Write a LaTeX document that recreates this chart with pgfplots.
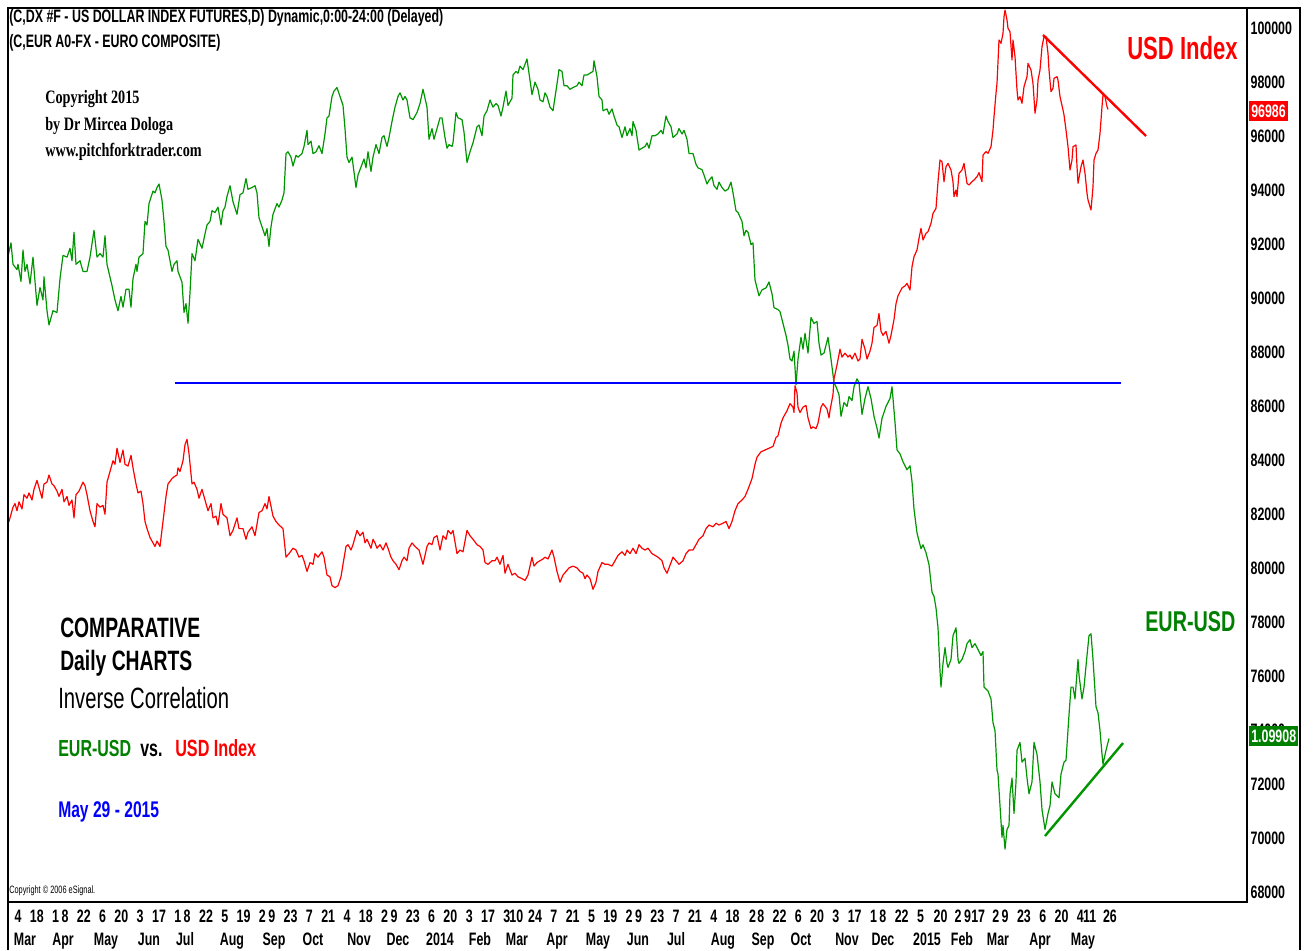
\documentclass[border=0pt]{standalone}
\usepackage{pgfplots}
\pgfplotsset{compat=1.18}
\usepackage{fontspec}
\setmainfont{Liberation Sans}
\newfontfamily\es[FakeStretch=0.69]{Liberation Sans}
\newfontfamily\ser[FakeStretch=0.75]{Liberation Serif}
\definecolor{lgreen}{RGB}{0,150,0}
\definecolor{tgreen}{RGB}{0,128,0}
\definecolor{lred}{RGB}{255,0,0}
\definecolor{lblue}{RGB}{0,0,255}

\pgfplotstableread{
x y
7 91380
11 92042
13 91248
17 91050
18 91248
21 90613
23 91777
25 90984
27 91248
30 90521
33 91513
37 89727
40 90388
43 89925
44 90785
47 89529
49 88999
53 89529
57 89462
60 90719
63 91579
67 91513
70 91843
72 91380
74 92439
76 91248
80 91380
83 90984
87 90984
90 91513
94 92505
97 91513
100 91645
103 91513
105 92306
107 91248
112 90455
115 89925
118 89529
121 90058
123 89661
126 90322
129 90322
131 89661
133 90719
136 91248
137 90984
139 91513
143 91645
145 92836
147 92703
149 93497
153 93960
155 93894
157 94092
159 94224
162 93629
164 92836
166 91910
168 91777
170 91380
172 90984
174 91248
177 91380
178 90984
182 90587
184 89462
186 89793
188 89066
190 90190
192 91645
195 91380
198 92174
202 91843
205 92373
207 92703
210 92836
212 93232
215 93166
218 93365
221 92703
223 93232
225 93365
227 93762
230 94158
233 93563
237 93100
240 93828
243 93894
246 94423
248 94026
252 94092
255 94158
257 93894
259 92968
262 92637
265 92306
267 92571
269 91910
271 92637
273 93100
277 93497
279 93365
282 93629
284 93894
286 95349
288 95415
291 95217
293 94886
296 95283
298 95217
302 95349
304 95613
307 96209
308 95680
311 95812
313 95349
316 95415
319 95640
322 95349
325 96076
327 96672
329 96738
332 97465
334 97664
337 97796
340 97465
343 97135
345 96275
347 95217
349 95018
352 95217
353 94952
356 94092
358 94555
362 94952
364 95150
366 94820
368 95415
371 94687
373 95217
376 95680
379 95349
382 95944
384 96010
387 95613
389 95944
392 96539
395 97069
398 97465
400 97598
403 97333
405 97465
407 97333
410 96672
413 96606
417 96870
420 97201
423 97730
427 97069
429 95878
432 96275
434 95878
437 96275
440 96672
442 96672
445 95944
447 95547
449 95680
452 95613
453 95746
456 96870
458 96672
462 96606
464 96143
467 95018
470 95415
473 95746
477 96341
479 96407
482 96010
484 96738
487 96936
490 97333
493 97069
496 97201
498 97135
501 96738
503 97069
506 97664
508 97135
512 97399
513 98259
516 98391
518 98325
520 98590
523 98457
525 98656
527 98854
530 98061
532 97531
535 97994
538 97730
540 97333
543 97267
545 97598
547 97465
550 97069
553 96936
557 97928
559 98457
562 98391
564 97862
567 97862
570 97730
573 97796
577 97862
579 97994
582 97862
584 98259
587 98259
590 98325
593 98391
594 98788
597 98193
599 97465
602 97333
603 96936
607 97002
609 96804
612 97002
614 96738
617 96407
619 96341
622 95944
625 96341
627 96010
630 96275
632 96010
633 96539
636 96209
639 95481
642 95547
645 95613
647 95746
649 95547
652 96010
655 96010
658 96076
661 96209
663 96076
666 96738
668 96539
671 96341
673 95944
677 96076
679 96275
682 96076
684 96209
687 95878
689 95349
693 95349
696 94952
698 94820
702 94754
704 94555
707 94224
709 94357
712 94489
714 94158
717 94026
719 94291
722 94092
725 93960
728 94026
731 94291
733 93894
736 93232
738 93166
742 92836
744 92306
746 92505
748 92439
751 91976
753 92042
755 90667
759 90081
762 90301
766 90374
769 90594
772 90155
774 89642
778 89569
780 89496
783 89057
786 88618
788 88251
790 87739
792 87666
794 88032
796 86788
798 87739
801 88544
803 88105
805 88691
808 87959
811 89276
814 89057
817 89130
819 88325
821 87886
824 87959
828 88544
831 87739
834 86861
836 86714
839 86422
841 85617
844 86129
847 85983
849 86349
852 86202
854 86715
857 87007
859 86861
862 85690
865 86276
868 86715
871 86276
874 85617
877 85177
879 84811
882 85543
886 85983
888 86129
890 86276
892 86715
895 85397
897 84372
900 84226
903 83933
907 83640
910 83787
912 83201
914 82177
917 81298
921 80713
923 80859
926 80566
929 80127
932 79102
934 78956
936 78517
938 77785
940 76174
941 75589
943 76467
945 77053
947 76467
948 76321
951 76614
953 77492
956 77785
958 76614
959 76467
962 76614
965 76906
967 77199
970 77346
972 77053
975 77199
979 76906
981 76760
983 76906
984 75589
988 75442
991 75150
993 74271
995 73979
997 72515
998 72369
1000 71198
1002 70026
1003 70465
1005 69588
1007 70319
1009 70465
1010 71636
1012 72222
1014 70904
1016 72076
1017 73247
1020 73540
1022 72808
1025 72954
1027 72222
1029 71636
1032 72076
1034 73540
1037 73100
1040 72076
1042 71051
1045 70319
1048 70904
1050 71198
1052 72076
1055 71636
1059 71490
1061 72369
1064 72808
1066 72881
1069 74563
1071 75589
1073 75589
1075 75150
1078 76614
1079 76028
1082 75150
1084 75589
1087 76760
1089 77492
1091 77565
1093 76614
1096 74857
1098 74638
1100 73979
1102 73100
1103 72735
1106 73247
1109 73686
}\eurtable

\pgfplotstableread{
x y
7 81856
9 81724
13 82253
15 82385
17 82121
19 82451
22 82187
24 82716
27 82584
29 82782
32 82518
34 82914
37 83245
39 82980
42 82584
44 83113
47 83179
49 83444
52 83113
54 83047
57 82848
59 82650
62 82914
64 82451
67 82650
69 82319
72 82518
74 81856
76 82716
79 82848
83 83179
85 83047
87 82716
90 82121
93 81724
95 81526
97 82385
100 82253
103 82319
105 81988
107 83179
110 83576
113 83973
115 83841
117 84436
120 83907
123 84370
125 83841
128 83775
131 84172
133 83709
136 83113
138 82782
141 82848
143 82385
145 81724
147 81459
150 81129
153 80930
155 80798
157 80997
160 80798
163 81724
166 82650
168 83113
172 83311
174 83377
177 83444
178 83709
180 83576
183 83973
185 84568
187 84766
189 84238
192 83113
194 83179
197 82914
199 82584
202 82914
205 82518
208 82121
211 82385
213 81856
216 81922
218 81592
221 82385
223 81988
227 81856
230 81195
233 81393
237 81856
239 81459
243 81459
246 81063
248 81327
252 81526
255 81195
259 82054
262 82121
265 82385
267 82187
269 82650
273 81922
276 81724
279 81592
283 81459
286 80401
289 80533
293 80732
296 80666
299 80401
302 80467
304 80269
307 79872
310 80203
313 80137
315 80533
318 80401
322 80600
324 80401
327 79740
330 79674
332 79343
335 79277
338 79343
341 79674
343 80137
346 80798
348 80864
351 80666
353 80864
355 81129
357 81393
360 81195
363 81327
365 80930
367 81063
371 80732
373 81063
375 80930
377 80732
380 80864
383 80666
386 80930
388 80732
391 80401
393 80269
396 80137
399 79938
402 80269
404 80401
407 80269
409 80732
412 80930
415 80798
419 80666
423 80137
427 80798
429 80930
432 80864
434 81129
437 81195
440 80666
443 81195
446 81063
448 81393
451 81261
453 81393
457 80533
460 80666
463 80600
467 81393
470 81195
473 81063
477 80864
480 80798
483 80666
485 80203
488 80137
492 80269
495 80269
497 80401
500 80137
503 80467
505 79806
508 80137
512 79740
515 79806
518 79674
522 79607
525 79541
528 79740
532 80401
534 80071
537 80203
540 80269
543 80335
545 80401
548 80335
552 80666
554 80401
557 79872
560 79475
563 79740
566 79872
569 80004
573 80071
577 80004
580 79872
583 79806
585 79607
587 79740
590 79607
593 79211
596 79475
598 79872
602 80203
605 80137
608 80137
612 80071
615 80269
618 80467
622 80600
625 80467
627 80666
630 80533
633 80732
636 80533
639 80864
642 80732
645 80666
648 80732
652 80533
655 80467
658 80401
662 80269
664 80004
667 79806
669 80004
673 80401
676 80269
679 80137
683 80269
686 80533
689 80666
693 80666
696 80864
699 81063
703 81195
706 81459
709 81592
713 81526
716 81658
719 81592
723 81658
726 81724
729 81459
732 81724
735 82121
738 82385
742 82518
745 82650
748 82914
752 83311
755 83841
757 84105
761 84304
765 84370
769 84436
773 84502
776 84832
778 84898
781 85362
783 85560
787 85825
790 86089
793 85957
794 85759
795 86751
797 86486
798 85957
800 85759
803 85957
806 86023
808 85560
811 85163
813 85229
816 85163
818 85362
821 85957
823 86089
827 85891
829 85560
830 85836
833 86422
834 87007
837 87520
840 88105
842 87812
845 87959
848 87812
850 87886
852 87739
855 87959
858 87666
860 87739
862 88471
865 88105
867 87739
870 88032
872 88325
874 88910
877 88984
879 89423
881 88764
883 88618
886 88764
889 88325
891 88618
894 89203
896 89789
898 90081
902 90374
905 90447
907 90543
910 90296
912 91160
914 91531
917 91778
919 92210
921 92580
923 92148
926 92395
928 92457
931 92765
933 93136
936 93321
938 94309
940 95111
942 95049
944 94309
946 94864
948 94987
951 94740
953 94309
954 93753
956 94000
957 93753
959 94617
962 94740
964 94987
965 94740
967 94247
969 94185
972 94309
974 94370
977 94494
979 94642
982 94309
983 95296
986 95420
988 95358
991 95605
993 96222
994 96716
996 97580
997 97951
999 99556
1001 99432
1003 99802
1004 100420
1005 100667
1007 100296
1008 99988
1010 99864
1012 98815
1013 99556
1015 98938
1017 97704
1018 97333
1020 97457
1022 97210
1024 97827
1027 98198
1028 98691
1031 98444
1033 97951
1035 96840
1037 97333
1038 98074
1040 98444
1042 99309
1044 99679
1046 99679
1048 99062
1049 98444
1051 97642
1053 97765
1054 98136
1057 98198
1058 98074
1060 97457
1063 96963
1064 96778
1066 96222
1068 95605
1070 94740
1072 95111
1073 95605
1076 95667
1077 94864
1078 94247
1081 94864
1083 95111
1085 94617
1087 93877
1088 93630
1091 93259
1093 94123
1094 95111
1096 95358
1098 95481
1100 96099
1102 97086
1103 97518
1105 97457
1107 97086
1108 96986
}\usdtable

\begin{document}
\begin{tikzpicture}[x=0.75pt,y=0.75pt]
\path[use as bounding box] (0,0) rectangle (1314,950);
\fill[white] (0,0) rectangle (1314,950);
\begin{axis}[
  at={(6pt,36pt)}, anchor=south west,
  scale only axis, width=929.25pt, height=670.5pt,
  xmin=8, xmax=1247, ymin=67630, ymax=100741,
  axis line style={black, line width=1.2pt},
  major tick length=0pt,
  scaled y ticks=false, scaled x ticks=false,
  ytick={68000,70000,...,100000},
  yticklabel pos=right,
  /pgf/number format/assume math mode=true,
  /pgf/number format/1000 sep={},
  /pgf/number format/fixed,
  yticklabel style={font=\es\bfseries\fontsize{13.5}{14}\selectfont, anchor=west, inner sep=0pt, xshift=2.5pt},
  xtick={18,36.8,55.6,65,83.8,102.6,121.4,140.2,159,177.8,187.2,206,224.8,243.6,262.4,271.8,290.6,309.4,328.2,347,365.8,384.6,394,412.8,431.6,450.4,469.2,488,506.9,516.3,535.1,553.9,572.7,591.5,610.3,629.1,638.5,657.3,676.1,694.9,713.7,732.5,752.6,760.7,779.5,798.3,817.1,835.9,854.7,873.5,882.9,901.7,920.5,940.6,958.1,967.5,978.2,995.7,1005.1,1023.9,1042.7,1061.5,1080.3,1089.7,1109.9},
  xticklabels={4,18,1,8,22,6,20,3,17,1,8,22,5,19,2,9,23,7,21,4,18,2,9,23,6,20,3,17,3,10,24,7,21,5,19,2,9,23,7,21,4,18,2,8,22,6,20,3,17,1,8,22,5,20,2,9,17,2,9,23,6,20,4,11,26},
  xticklabel style={font=\es\bfseries\fontsize{13.5}{14}\selectfont, anchor=base, inner sep=0pt, yshift=-15.5pt},
]
\addplot[lred, line width=0.9pt, line join=round] table[x=x,y=y] {\usdtable};
\addplot[lgreen, line width=0.9pt, line join=round] table[x=x,y=y] {\eurtable};
\addplot[lblue, line width=1.4pt] coordinates {(175,86852) (1121,86852)};
\addplot[lred, line width=1.8pt] coordinates {(1043,99741) (1146,96000)};
\addplot[lgreen, line width=1.8pt] coordinates {(1045,70074) (1123,73518)};
\end{axis}
% outer frame
\draw[line width=1.2pt] (8,0) -- (8,942) -- (1300,942) -- (1300,0);
% month labels
\foreach \xx/\mm in {25/Mar,63/Apr,106/May,149/Jun,185/Jul,232/Aug,274/Sep,313/Oct,359/Nov,398/Dec,440/2014,480/Feb,517/Mar,557/Apr,598/May,638/Jun,676/Jul,723/Aug,763/Sep,801/Oct,847/Nov,883/Dec,927/2015,962/Feb,998/Mar,1040/Apr,1083/May}
  \node[anchor=base, inner sep=0pt, font=\es\bfseries\fontsize{13.5}{14}\selectfont] at (\xx,5) {\mm};
% badges
\node[anchor=west, fill=lred, text=white, inner xsep=1.5pt, inner ysep=3pt, font=\es\bfseries\fontsize{13.5}{14}\selectfont] at (1249,839) {96986};
\node[anchor=west, fill=tgreen, text=white, inner xsep=1.5pt, inner ysep=3pt, font=\es\bfseries\fontsize{13.5}{14}\selectfont] at (1249,214) {1.09908};
% header
\node[anchor=base west, inner sep=0pt, font=\es\bfseries\fontsize{13.5}{14}\selectfont] at (9,927) {(C,DX \#F - US DOLLAR INDEX FUTURES,D) Dynamic,0:00-24:00 (Delayed)};
\node[anchor=base west, inner sep=0pt, font=\es\bfseries\fontsize{13.5}{14}\selectfont] at (9,902) {(C,EUR A0-FX - EURO COMPOSITE)};
% copyright
\node[anchor=base west, inner sep=0pt, font=\ser\bfseries\fontsize{14.2}{15}\selectfont] at (45,846) {Copyright 2015};
\node[anchor=base west, inner sep=0pt, font=\ser\bfseries\fontsize{14.2}{15}\selectfont] at (45,819) {by Dr Mircea Dologa};
\node[anchor=base west, inner sep=0pt, font=\ser\bfseries\fontsize{14.2}{15}\selectfont] at (45,793) {www.pitchforktrader.com};
% labels
\node[anchor=base west, inner sep=0pt, text=lred, font=\es\bfseries\fontsize{24}{26}\selectfont] at (1127,890) {USD Index};
\node[anchor=base west, inner sep=0pt, text=tgreen, font=\es\bfseries\fontsize{21.5}{23}\selectfont] at (1145,318) {EUR-USD};
\node[anchor=base west, inner sep=0pt, font=\es\bfseries\fontsize{21}{23}\selectfont] at (60,312) {COMPARATIVE};
\node[anchor=base west, inner sep=0pt, font=\es\bfseries\fontsize{21}{23}\selectfont] at (60,279) {Daily CHARTS};
\node[anchor=base west, inner sep=0pt, font=\es\fontsize{22}{24}\selectfont] at (58,241) {Inverse Correlation};
\node[anchor=base west, inner sep=0pt, text=tgreen, font=\es\bfseries\fontsize{17.4}{19}\selectfont] at (58,193) {EUR-USD};
\node[anchor=base west, inner sep=0pt, font=\es\bfseries\fontsize{17.4}{19}\selectfont] at (140,193) {vs.};
\node[anchor=base west, inner sep=0pt, text=lred, font=\es\bfseries\fontsize{17.6}{19}\selectfont] at (175,193) {USD Index};
\node[anchor=base west, inner sep=0pt, text=lblue, font=\es\bfseries\fontsize{17}{19}\selectfont] at (58,132) {May 29 - 2015};
\node[anchor=base west, inner sep=0pt, font=\es\fontsize{8}{9}\selectfont] at (9,56) {Copyright \textcopyright{} 2006 eSignal.};
\end{tikzpicture}
\end{document}
